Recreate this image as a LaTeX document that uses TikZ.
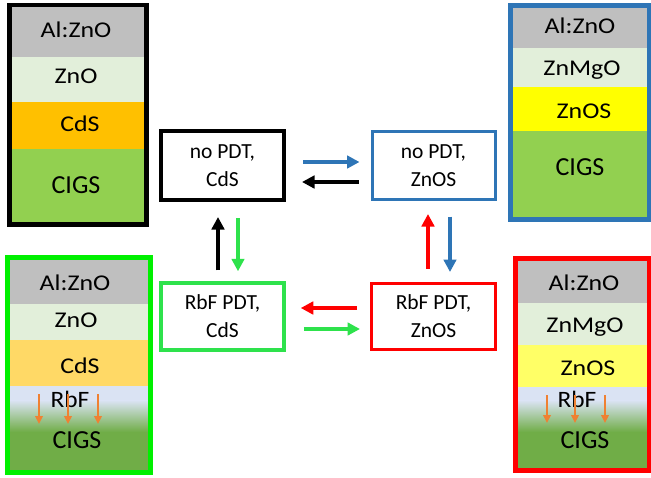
\documentclass[tikz,border=0pt]{standalone}
\usepackage{fontspec}
\setmainfont{Carlito}
\usepackage{graphicx}
\usetikzlibrary{arrows.meta}

% layer colours
\definecolor{layergray}{HTML}{BFBFBF}
\definecolor{znolayer}{HTML}{E2EFDA}
\definecolor{cdsdark}{HTML}{FFC000}
\definecolor{cdslight}{HTML}{FFD966}
\definecolor{znosdark}{HTML}{FFFF00}
\definecolor{znoslight}{HTML}{FFFF66}
\definecolor{cigslight}{HTML}{92D050}
\definecolor{cigsdark}{HTML}{70AD47}
\definecolor{rbflayer}{HTML}{DAE3F3}
\definecolor{rbforange}{HTML}{EF8132}
% frame colours
\definecolor{frameblue}{HTML}{2E75B6}
\definecolor{framered}{HTML}{FF0000}
\definecolor{framegreen}{HTML}{00F000}
\definecolor{boxgreen}{HTML}{2EE24C}

\newcommand{\wide}[2]{\scalebox{#1}[1]{#2}}

\begin{document}
\begin{tikzpicture}[x=1pt,y=-1pt,
  lbl/.style={anchor=base, inner sep=0pt, font=\fontsize{22.5}{22.5}\selectfont},
  biglbl/.style={anchor=base, inner sep=0pt, font=\fontsize{26}{26}\selectfont},
  rbflbl/.style={anchor=base, inner sep=0pt, font=\fontsize{23.5}{23.5}\selectfont},
  state/.style={draw, fill=white, align=center, inner sep=0pt,
    font=\fontsize{21.5}{28}\selectfont, minimum width=123pt, minimum height=68pt},
  link/.style={line width=3.7pt, -{Triangle[length=12.5pt,width=12.5pt]}},
  diffuse/.style={draw=rbforange, line width=2pt, -{Triangle[length=8pt,width=7.5pt]}}]
\useasboundingbox (0,0) rectangle (651,477);
\fill[white] (0,0) rectangle (651,477);

% ---------- stack: no PDT, CdS ----------
\fill[layergray] (9.5,5) rectangle (146.5,57);
\fill[znolayer] (9.5,57) rectangle (146.5,102);
\fill[cdsdark] (9.5,102) rectangle (146.5,149);
\fill[cigslight] (9.5,149) rectangle (146.5,224.5);
\draw[line width=4.5pt] (9.5,5) rectangle (146.5,224.5);
\node[lbl] (tl1) at (76,37.5) {\wide{1.15}{Al:ZnO}};
\node[lbl] (tl2) at (76,83.5) {\wide{1.15}{ZnO}};
\node[lbl] (tl3) at (80,131.5) {\wide{1.15}{CdS}};
\node[biglbl] (tl4) at (76,193.5) {CIGS};

% ---------- stack: no PDT, ZnOS ----------
\fill[layergray] (510.5,5) rectangle (649,48);
\fill[znolayer] (510.5,48) rectangle (649,87);
\fill[znosdark] (510.5,87) rectangle (649,131);
\fill[cigslight] (510.5,131) rectangle (649,219.5);
\draw[frameblue, line width=5pt] (510.5,5) rectangle (649,219.5);
\node[lbl] (tr1) at (580,33.5) {\wide{1.15}{Al:ZnO}};
\node[lbl] (tr2) at (582,75.5) {\wide{1.15}{ZnMgO}};
\node[lbl] (tr3) at (584,118.5) {\wide{1.15}{ZnOS}};
\node[biglbl] (tr4) at (580,175.5) {CIGS};

% ---------- stack: RbF PDT, CdS ----------
\fill[layergray] (7.5,257.5) rectangle (150,304);
\fill[znolayer] (7.5,304) rectangle (150,340);
\fill[cdslight] (7.5,340) rectangle (150,386);
\fill[rbflayer] (7.5,386) rectangle (150,401);
\shade[top color=rbflayer, bottom color=cigsdark] (7.5,400.5) rectangle (150,432);
\fill[cigsdark] (7.5,431.5) rectangle (150,472);
\draw[framegreen, line width=5pt] (7.5,257.5) rectangle (150,472);
\node[lbl] (bl1) at (75,290.5) {\wide{1.15}{Al:ZnO}};
\node[lbl] (bl2) at (76,327.5) {\wide{1.15}{ZnO}};
\node[lbl] (bl3) at (80,373.5) {\wide{1.15}{CdS}};
\node[rbflbl] (bl4) at (70,407.5) {\wide{1.08}{RbF}};
\node[biglbl] (bl5) at (77,448.5) {CIGS};
\draw[diffuse] (39,394) -- (39,424);
\draw[diffuse] (68,394) -- (68,424);
\draw[diffuse] (98,394) -- (98,424);

% ---------- stack: RbF PDT, ZnOS ----------
\fill[layergray] (515,258.5) rectangle (649,303);
\fill[znolayer] (515,303) rectangle (649,345);
\fill[znoslight] (515,345) rectangle (649,387);
\fill[rbflayer] (515,387) rectangle (649,401);
\shade[top color=rbflayer, bottom color=cigsdark] (515,400.5) rectangle (649,432);
\fill[cigsdark] (515,431.5) rectangle (649,470.5);
\draw[framered, line width=5pt] (515,258.5) rectangle (649,470.5);
\node[lbl] (br1) at (584,290.5) {\wide{1.15}{Al:ZnO}};
\node[lbl] (br2) at (585,332.5) {\wide{1.15}{ZnMgO}};
\node[lbl] (br3) at (588,375.5) {\wide{1.15}{ZnOS}};
\node[rbflbl] (br4) at (577,407.5) {\wide{1.08}{RbF}};
\node[biglbl] (br5) at (585,448.5) {CIGS};
\draw[diffuse] (547,395) -- (547,423);
\draw[diffuse] (575,395) -- (575,423);
\draw[diffuse] (605,395) -- (605,423);

% ---------- the four states ----------
\node[state, line width=4pt, minimum height=69pt] (nocds) at (222.5,165.5)
  {no PDT,\\CdS};
\node[state, draw=frameblue, line width=3pt] (nozns) at (433.5,165.5)
  {no PDT,\\ZnOS};
\node[state, draw=boxgreen, line width=3.5pt, minimum height=67pt] (rbcds) at (222.5,316.5)
  {RbF PDT,\\CdS};
\node[state, draw=framered, line width=3pt, minimum width=124pt, minimum height=66pt] (rbzns) at (433.5,316.5)
  {RbF PDT,\\ZnOS};

% ---------- transitions ----------
\draw[link, frameblue] ([xshift=17pt,yshift=3.5pt]nocds.east) -- ([xshift=-11pt,yshift=3.5pt]nozns.west);
\draw[link, black] ([xshift=-12pt,yshift=-16.5pt]nozns.west) -- ([xshift=16pt,yshift=-16.5pt]nocds.east);
\draw[link, black] ([xshift=-4.5pt,yshift=11pt]rbcds.north) -- ([xshift=-4.5pt,yshift=-15pt]nocds.south);
\draw[link, boxgreen] ([xshift=15.5pt,yshift=-16pt]nocds.south) -- ([xshift=15.5pt,yshift=10pt]rbcds.north);
\draw[link, framered] ([xshift=-5.5pt,yshift=13.5pt]rbzns.north) -- ([xshift=-5.5pt,yshift=-13pt]nozns.south);
\draw[link, frameblue] ([xshift=16.5pt,yshift=-15.5pt]nozns.south) -- ([xshift=16.5pt,yshift=10pt]rbzns.north);
\draw[link, framered] ([xshift=-13pt,yshift=8.5pt]rbzns.west) -- ([xshift=15pt,yshift=8.5pt]rbcds.east);
\draw[link, boxgreen] ([xshift=18pt,yshift=-12.5pt]rbcds.east) -- ([xshift=-10pt,yshift=-12.5pt]rbzns.west);
\end{tikzpicture}
\end{document}
